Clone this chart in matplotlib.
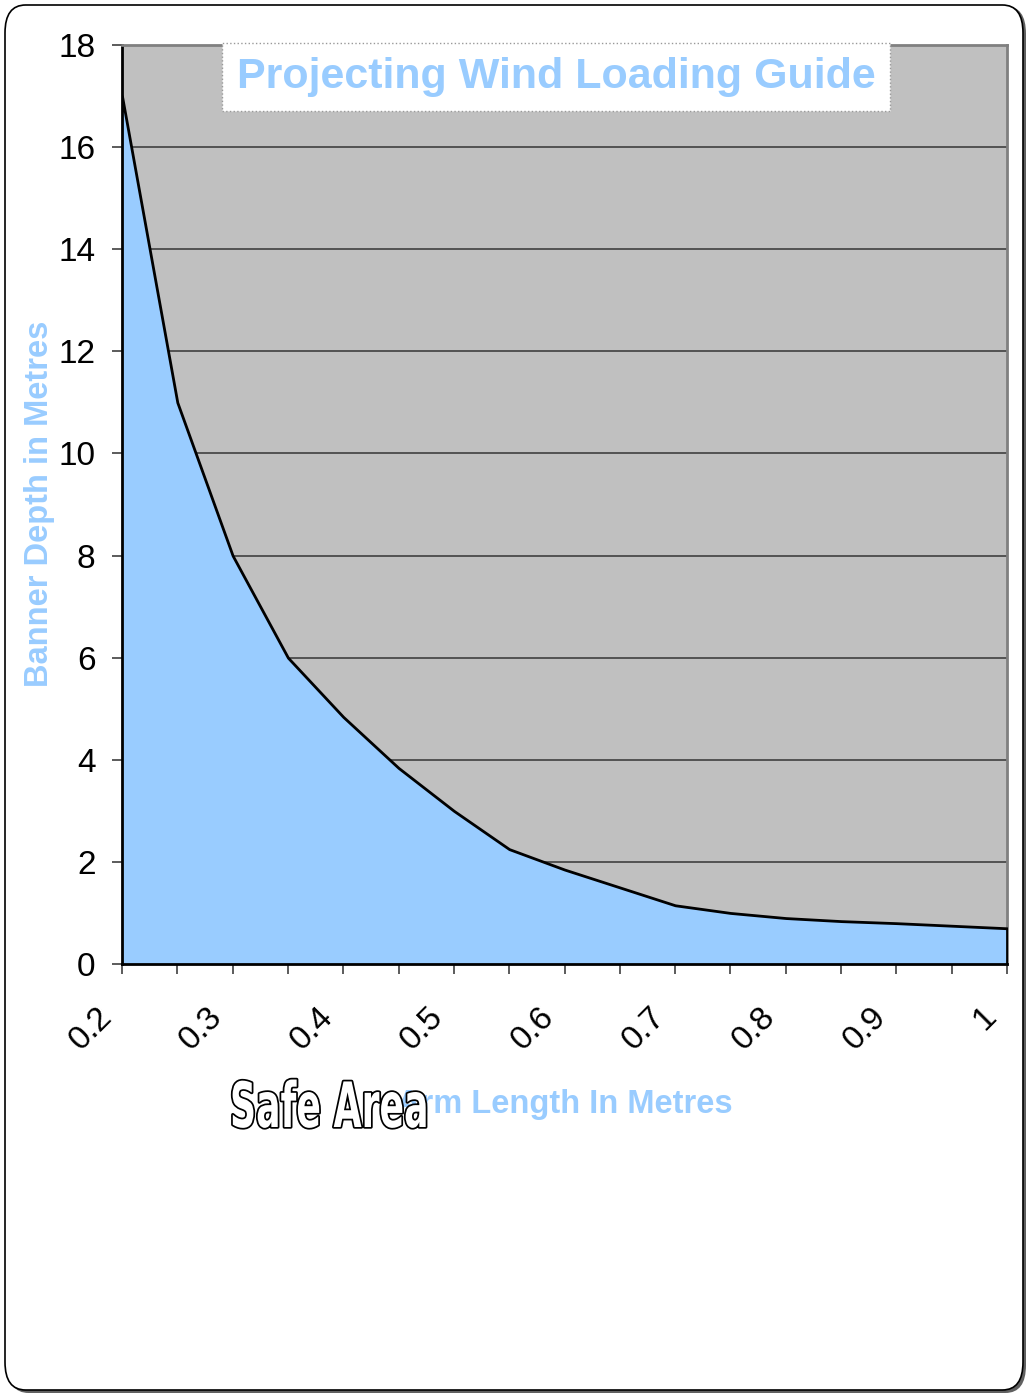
import matplotlib.pyplot as plt
import matplotlib.patheffects as pe
from matplotlib.patches import FancyBboxPatch
from matplotlib.transforms import Affine2D

# Arm length (m) vs. max banner depth (m)
arm_length = [0.2, 0.25, 0.3, 0.35, 0.4, 0.45, 0.5, 0.55, 0.6, 0.65, 0.7,
              0.75, 0.8, 0.85, 0.9, 0.95, 1.0]
banner_depth = [17.0, 11.0, 8.0, 6.0, 4.84, 3.84, 3.0, 2.25, 1.85, 1.5, 1.15,
                1.0, 0.9, 0.84, 0.8, 0.75, 0.7]
x_labels = ["0.2", "0.3", "0.4", "0.5", "0.6", "0.7", "0.8", "0.9", "1"]
x_label_pos = [0.2, 0.3, 0.4, 0.5, 0.6, 0.7, 0.8, 0.9, 1.0]
y_ticks = [0, 2, 4, 6, 8, 10, 12, 14, 16, 18]

light_blue = "#99CCFF"
plt.rcParams["font.family"] = ["Liberation Sans", "DejaVu Sans"]

fig = plt.figure(figsize=(10.29, 13.95), dpi=100)
W, H = 1029, 1395

# rounded frame with a small shadow
shadow = FancyBboxPatch((8 / W, 2 / H), 1018 / W, 1387 / H,
                        boxstyle="round,pad=0,rounding_size=0.02",
                        transform=fig.transFigure, facecolor="#606060",
                        edgecolor="none", zorder=0)
frame = FancyBboxPatch((5 / W, 5 / H), 1018 / W, 1385 / H,
                       boxstyle="round,pad=0,rounding_size=0.02",
                       transform=fig.transFigure, facecolor="white",
                       edgecolor="black", linewidth=1.2, zorder=1)
fig.patches.extend([shadow, frame])

ax = fig.add_axes([122 / W, (H - 964) / H, (1007 - 122) / W, (964 - 45) / H])
ax.set_facecolor("#C0C0C0")
ax.set_zorder(2)

ax.fill_between(arm_length, banner_depth, 0, facecolor=light_blue,
                edgecolor="black", linewidth=2, zorder=3)

ax.set_xlim(0.2, 1.0)
ax.set_ylim(0, 18)
ax.set_yticks(y_ticks)
ax.set_xticks(arm_length)
ax.set_xticklabels([])
ax.yaxis.grid(True, color="#404040", linewidth=1.2)
ax.set_axisbelow(True)
ax.tick_params(axis="both", direction="out", length=7, width=1.2,
               color="#404040", labelsize=24)
ax.tick_params(axis="y", pad=12)

for lbl, pos in zip(x_labels, x_label_pos):
    ax.annotate(lbl, xy=(pos, 0), xycoords=("data", "axes fraction"),
                xytext=(-15, -48), textcoords="offset pixels",
                rotation=45, rotation_mode="anchor", ha="right",
                va="center", fontsize=24)

for side in ["top", "right"]:
    ax.spines[side].set_color("#808080")
    ax.spines[side].set_linewidth(2)
for side in ["left", "bottom"]:
    ax.spines[side].set_color("black")
    ax.spines[side].set_linewidth(2)

fig.text(40 / W, 1 - 504 / H, "Banner Depth in Metres", rotation=90,
         ha="center", va="center", fontsize=23.5, fontweight="bold",
         color=light_blue)
fig.text(565 / W, 1 - 1104 / H, "Arm Length In Metres", ha="center",
         va="center", fontsize=23.5, fontweight="bold", color=light_blue)

fig.text(556 / W, 1 - 77 / H, "Projecting Wind Loading Guide", ha="center",
         va="center", fontsize=31, fontweight="bold", color=light_blue,
         zorder=5,
         bbox=dict(boxstyle="square,pad=0.33", facecolor="white",
                   edgecolor="#999999", linestyle=":", linewidth=1))


# "Safe Area" stamp: condensed outline lettering (no narrow font installed,
# so squeeze the glyphs horizontally when drawing)
stamp_x = 230
squeeze = (Affine2D().translate(-stamp_x, 0).scale(0.58, 1)
           .translate(stamp_x, 0))


class SqueezeStroke(pe.Stroke):
    def draw_path(self, renderer, gc, tpath, affine, rgbFace=None):
        super().draw_path(renderer, gc, tpath, affine + squeeze, rgbFace)


class SqueezeNormal(pe.AbstractPathEffect):
    def draw_path(self, renderer, gc, tpath, affine, rgbFace=None):
        renderer.draw_path(gc, tpath, affine + squeeze, rgbFace)


fig.text(stamp_x / W, 1 - 1110 / H, "Safe Area", ha="left", va="center",
         family="DejaVu Sans", fontsize=45, fontweight="bold",
         color="white", zorder=6,
         path_effects=[SqueezeStroke(linewidth=2.5, foreground="black"),
                       SqueezeNormal()])

plt.savefig("out.png", dpi=100, facecolor="white")
